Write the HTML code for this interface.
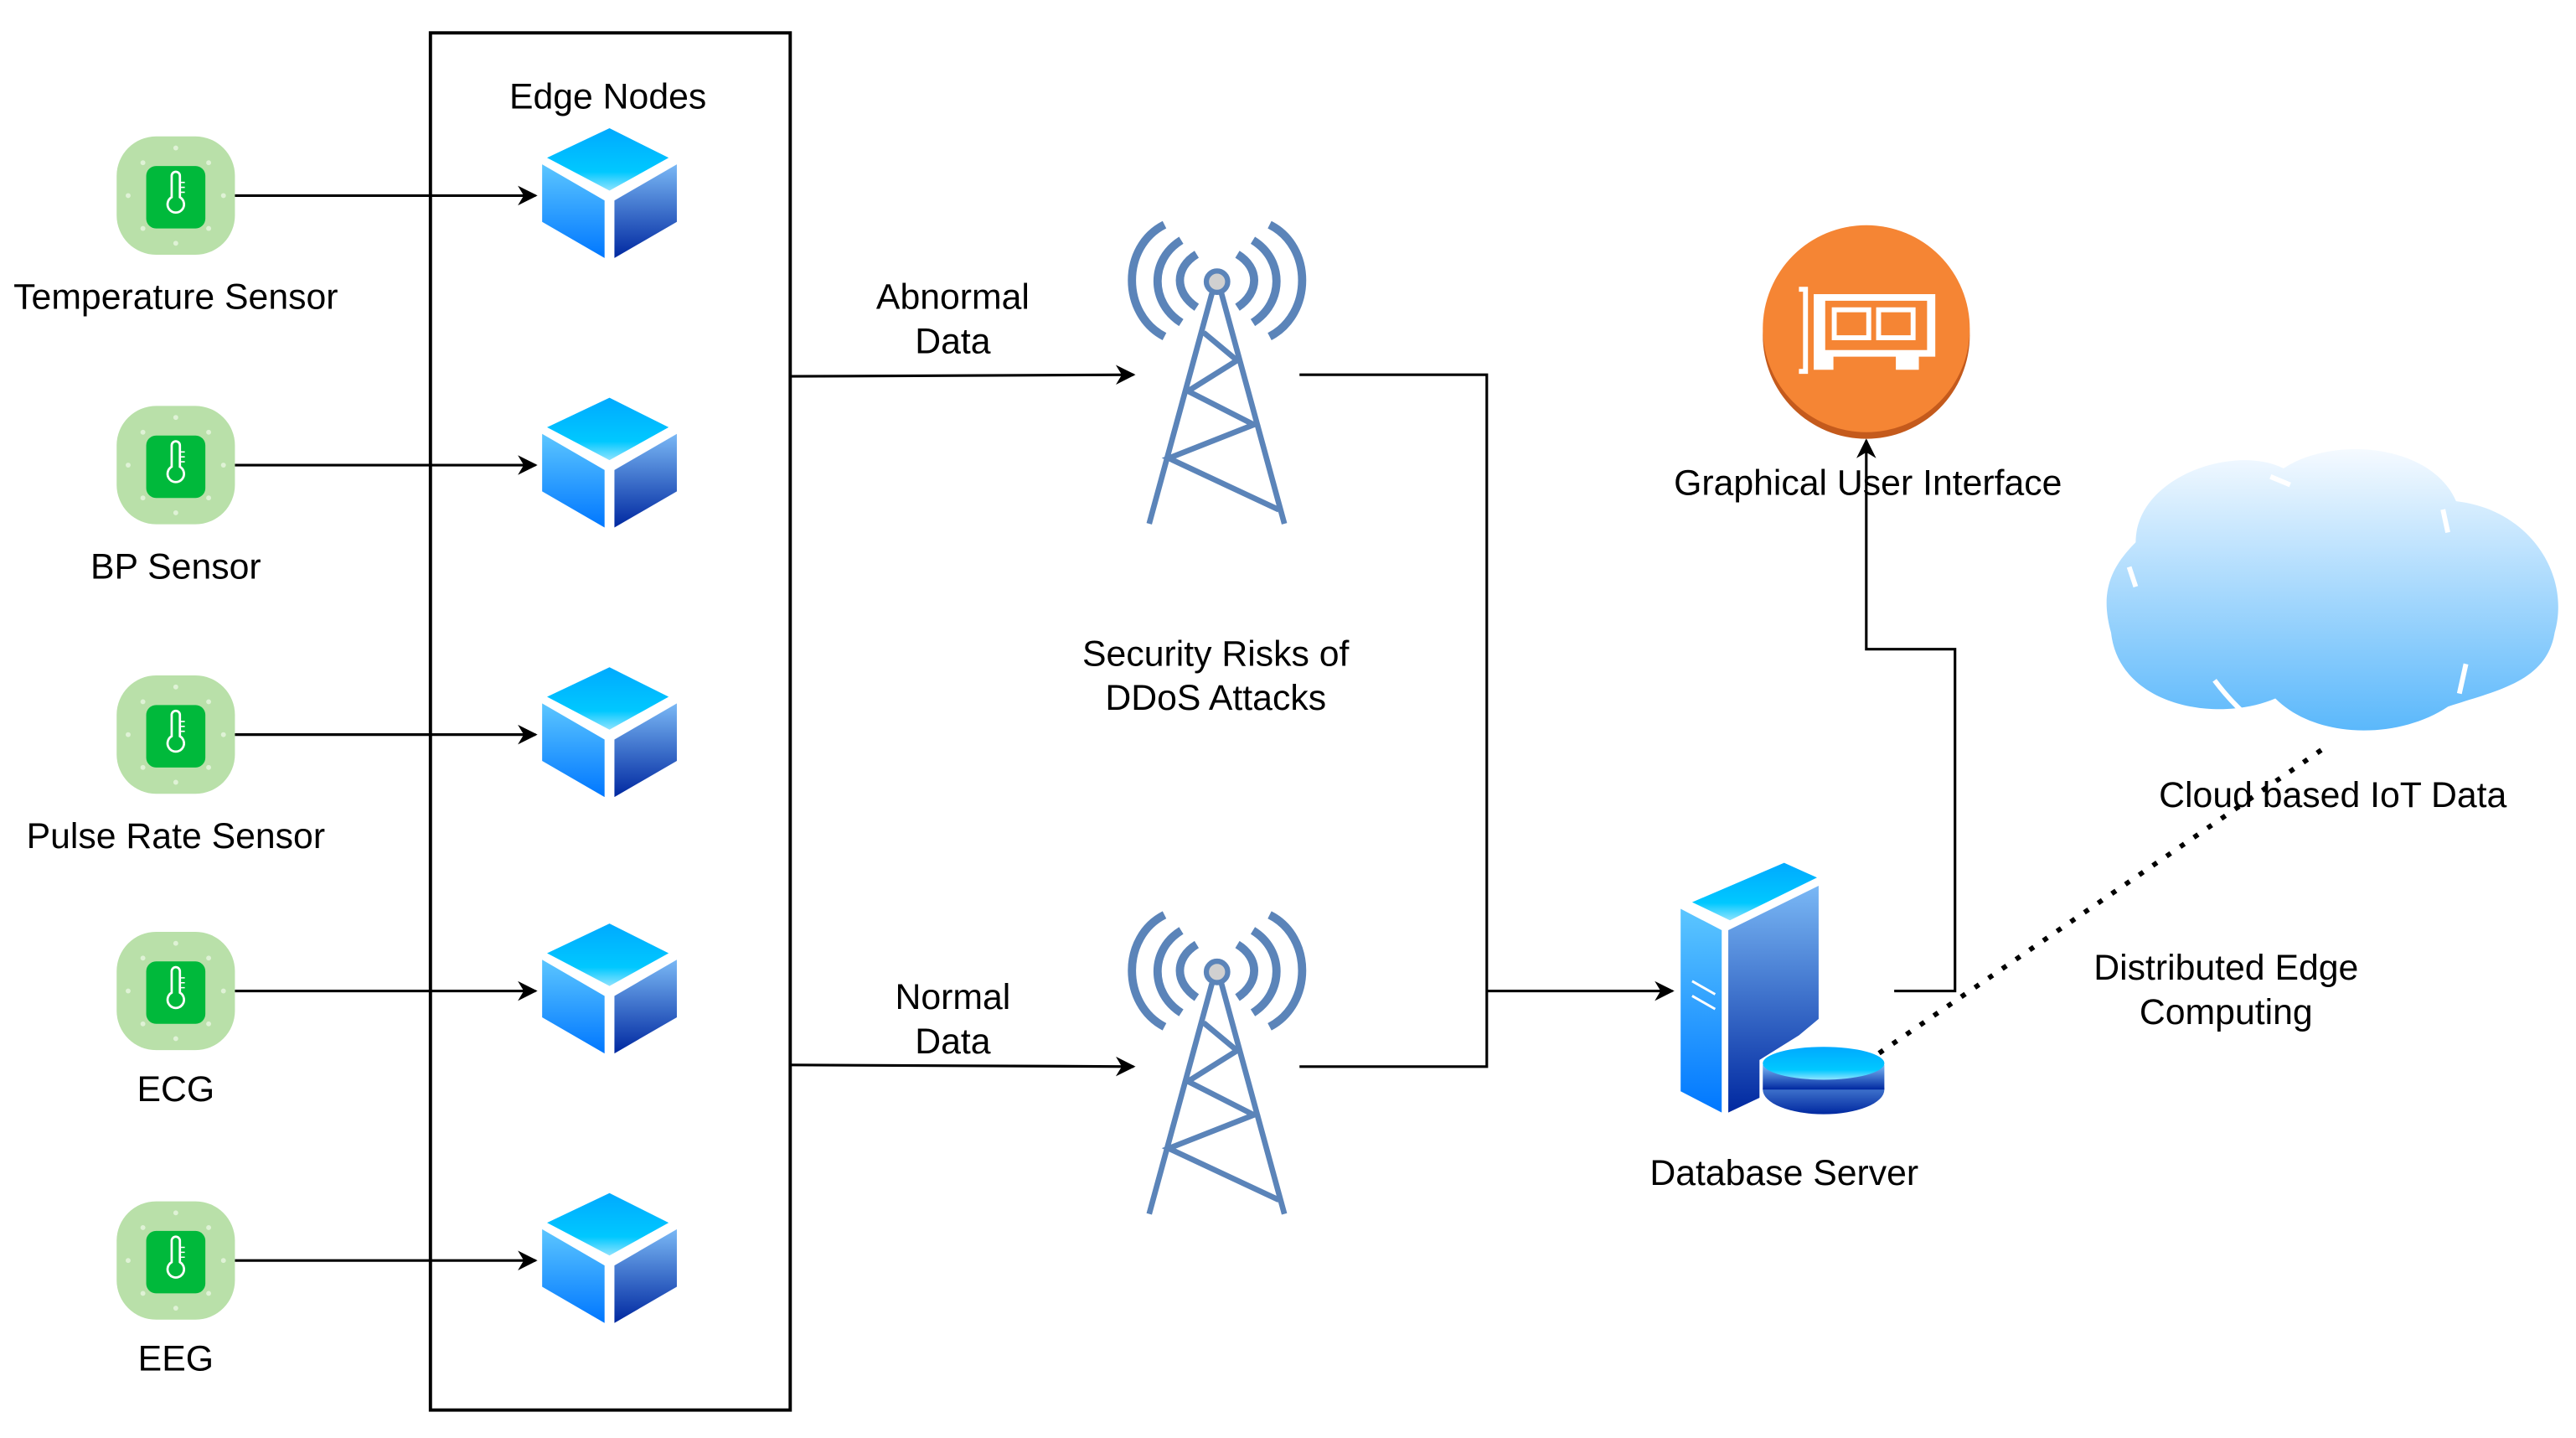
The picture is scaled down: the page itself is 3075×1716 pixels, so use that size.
<!DOCTYPE html>
<html><head><meta charset="utf-8"><style>html,body{margin:0;padding:0;background:#fff}svg{display:block}text{font-family:"Liberation Sans",sans-serif;font-size:21.8px;fill:#000;text-anchor:middle}</style></head>
<body>
<svg width="3075" height="1716" viewBox="0 0 1568 875" xmlns="http://www.w3.org/2000/svg">
<defs>
<linearGradient id="ct" x1="0" y1="0" x2="0" y2="1"><stop offset="0" stop-color="#00aaff"/><stop offset="0.7" stop-color="#00c8ff"/><stop offset="1" stop-color="#8fe3ff"/></linearGradient>
<linearGradient id="cl" x1="0" y1="0" x2="0" y2="1"><stop offset="0" stop-color="#5cc6ff"/><stop offset="1" stop-color="#0077ff"/></linearGradient>
<linearGradient id="cr" x1="0" y1="0" x2="0" y2="1"><stop offset="0" stop-color="#7ab8f5"/><stop offset="1" stop-color="#0028a0"/></linearGradient>
<linearGradient id="cloud" x1="0" y1="0" x2="0" y2="1"><stop offset="0" stop-color="#f5faff"/><stop offset="1" stop-color="#5bb8fb"/></linearGradient>
<marker id="ar" viewBox="0 0 10 10" refX="9" refY="5" markerWidth="13" markerHeight="12" orient="auto" markerUnits="userSpaceOnUse"><path d="M0,0 L10,5 L0,10 L3,5 Z" fill="#000"/></marker>
<g id="sensor">
<rect x="-36" y="-36" width="72" height="72" rx="24" fill="#b9e0a9"/>
<g fill="#dff2d6"><circle cx="0" cy="-29" r="1.5"/><circle cx="0" cy="29" r="1.5"/><circle cx="-29" cy="0" r="1.5"/><circle cx="29" cy="0" r="1.5"/><circle cx="-20" cy="-20" r="1.5"/><circle cx="20" cy="-20" r="1.5"/><circle cx="-20" cy="20" r="1.5"/><circle cx="20" cy="20" r="1.5"/></g>
<rect x="-18" y="-18" width="36" height="38" rx="6" fill="#00b93b"/>
<path d="M-2.5,-12 a2.5,2.5 0 0 1 5,0 v13 a5,5 0 1 1 -5,0 z" fill="none" stroke="#fff" stroke-width="1.4"/>
<path d="M2.5,-8 h3 M2.5,-5 h3 M2.5,-2 h3" stroke="#fff" stroke-width="0.8"/>
</g>
<g id="cube">
<polygon points="0,-40 36,-22 0,-2 -38,-22" fill="url(#ct)"/>
<polygon points="-41,-18 -3,4 -3,39 -41,17" fill="url(#cl)"/>
<polygon points="3,4 41,-18 41,17 3,39" fill="url(#cr)"/>
</g>
<g id="arcs" fill="none" stroke="#5b84b9">
<path d="M708.8,136.7 C682.4,150 682.4,191 708.8,204.8" stroke-width="5"/>
<path d="M719,146.2 C699.8,158 699.8,184 719,196.3" stroke-width="5"/>
<path d="M728.4,154.7 C714.8,163 714.8,178 728.4,187" stroke-width="5"/>
</g>
<g id="tower" fill="none" stroke="#5b84b9">
<use href="#arcs"/>
<use href="#arcs" transform="translate(1481.6,0) scale(-1,1)"/>
<path d="M737.7,178.5 L699.5,318.7 M743.5,178.5 L781.8,318.7" stroke-width="3.4"/>
<path d="M732.6,202.3 L753,219.3 L723.1,238 L763.2,258.4 L711.4,278.8 L778.5,310.2" stroke-width="3.4"/>
<circle cx="740.8" cy="171.4" r="6.5" fill="#d0d0d0" stroke-width="3.2"/>
</g>
</defs>

<rect x="262" y="20" width="219" height="838" fill="none" stroke="#000" stroke-width="2"/>
<text x="370" y="66">Edge Nodes</text>

<g stroke="#000" stroke-width="1.6" fill="none">
<line x1="143" y1="119" x2="326" y2="119" marker-end="url(#ar)"/>
<line x1="143" y1="283" x2="326" y2="283" marker-end="url(#ar)"/>
<line x1="143" y1="447" x2="326" y2="447" marker-end="url(#ar)"/>
<line x1="143" y1="603" x2="326" y2="603" marker-end="url(#ar)"/>
<line x1="143" y1="767" x2="326" y2="767" marker-end="url(#ar)"/>
<path d="M481,229 L690,228" marker-end="url(#ar)"/>
<path d="M481,648 L690,649" marker-end="url(#ar)"/>
<path d="M791,228 H905 V649 H791"/>
<path d="M905,603 H1018" marker-end="url(#ar)"/>
<path d="M1153,603 H1190 V395 H1136 V268" marker-end="url(#ar)"/>
</g>
<line x1="1145" y1="640" x2="1415" y2="455" stroke="#000" stroke-width="3" stroke-dasharray="0.1 10" stroke-linecap="square"/>

<use href="#sensor" x="107" y="119"/><use href="#sensor" x="107" y="283"/><use href="#sensor" x="107" y="447"/><use href="#sensor" x="107" y="603"/><use href="#sensor" x="107" y="767"/>
<text x="107" y="188">Temperature Sensor</text>
<text x="107" y="352">BP Sensor</text>
<text x="107" y="516">Pulse Rate Sensor</text>
<text x="107" y="670">ECG</text>
<text x="107" y="834">EEG</text>

<use href="#cube" x="371" y="118"/><use href="#cube" x="371" y="282"/><use href="#cube" x="371" y="446"/><use href="#cube" x="371" y="602"/><use href="#cube" x="371" y="766"/>

<use href="#tower"/>
<use href="#tower" y="420"/>
<text x="580" y="188">Abnormal</text><text x="580" y="215">Data</text>
<text x="580" y="614">Normal</text><text x="580" y="641">Data</text>
<text x="740" y="405">Security Risks of</text><text x="740" y="432">DDoS Attacks</text>

<!-- GUI -->
<circle cx="1136" cy="204" r="63" fill="#c45a1c"/>
<circle cx="1136" cy="200" r="63" fill="#f58534"/>
<path d="M1095,176 h4 v50 h-4" fill="none" stroke="#fff" stroke-width="3"/>
<path d="M1104,179 h74 v38 h-10 v8 h-14 v-8 h-38 v8 h-12 z" fill="#fff"/>
<rect x="1111" y="183" width="62" height="30" fill="#f58534"/>
<rect x="1115" y="187" width="24" height="20" fill="#fff"/><rect x="1142" y="187" width="24" height="20" fill="#fff"/>
<rect x="1118" y="190" width="18" height="14" fill="#f58534"/><rect x="1145" y="190" width="18" height="14" fill="#f58534"/>
<text x="1137" y="301">Graphical User Interface</text>

<!-- server -->
<polygon points="1086,525 1106,534 1053,560 1030,549" fill="url(#ct)"/>
<polygon points="1023,553 1048,566 1048,677 1023,664" fill="url(#cl)"/>
<polygon points="1052,566 1107,539 1107,620 1095,630 1071,645 1071,668 1052,677" fill="url(#cr)"/>
<path d="M1030,597 l14,8 M1030,606 l14,8" stroke="#fff" stroke-width="1.5"/>
<ellipse cx="1110" cy="663" rx="37" ry="15" fill="url(#cr)"/>
<rect x="1073" y="648" width="74" height="15" fill="url(#cr)"/>
<ellipse cx="1110" cy="647" rx="37" ry="10" fill="url(#ct)"/>
<text x="1086" y="721">Database Server</text>

<!-- cloud -->
<path d="M1300,330 C1300,290 1360,270 1390,285 C1420,265 1480,270 1495,305 C1540,310 1565,350 1555,385 C1550,415 1520,420 1490,430 C1460,450 1410,450 1385,425 C1350,440 1290,430 1285,385 C1278,360 1285,345 1300,330 Z" fill="url(#cloud)"/>
<g stroke="#fff" stroke-width="3" fill="none"><path d="M1296,345 l4,12"/><path d="M1382,290 l12,5"/><path d="M1487,310 l3,14"/><path d="M1348,414 C1360,430 1372,440 1384,448"/><path d="M1501,404 l-4,18"/></g>
<text x="1420" y="491">Cloud based IoT Data</text>
<text x="1355" y="596">Distributed Edge</text><text x="1355" y="623">Computing</text>
</svg>
</body></html>
